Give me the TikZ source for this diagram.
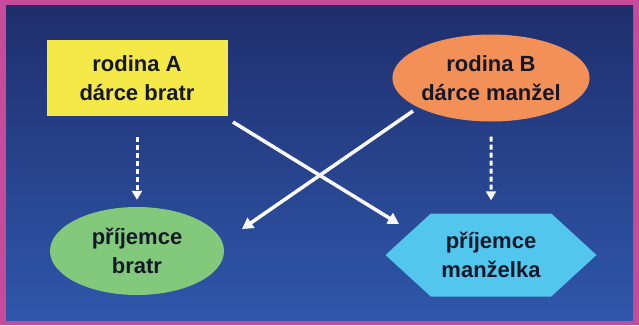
\documentclass[tikz,border=0pt]{standalone}
\usepackage{fontspec}
\setmainfont{Liberation Sans}
\usetikzlibrary{shapes.geometric, shapes.symbols, positioning, arrows.meta}

\definecolor{framecol}{HTML}{C64B9B}
\definecolor{bgtop}{HTML}{1F2E6C}
\definecolor{bgbottom}{HTML}{2F57AB}
\definecolor{yellowfill}{HTML}{F5E94A}
\definecolor{orangefill}{HTML}{F39058}
\definecolor{greenfill}{HTML}{82C97C}
\definecolor{cyanfill}{HTML}{52C6EC}
\definecolor{textdark}{HTML}{15182A}

\begin{document}
\begin{tikzpicture} [x=1pt, y=-1pt, node distance = 355pt, on grid,
  font=\bfseries\fontsize{22}{29}\selectfont,
  familybox/.style={align=center, inner sep=0pt, text=textdark},
  cross/.style={white, line width=3.5pt, -{Triangle[length=11pt, width=12pt]}},
  dots/.style={white, line width=3pt, dash pattern=on 5pt off 3pt, -{Triangle[length=9pt, width=10pt]}}]

% background and frame
\fill[framecol] (0,0) rectangle (639,325);
\shade[top color=bgtop, bottom color=bgbottom] (6,5) rectangle (633,320);

\node[familybox, rectangle, fill=yellowfill, minimum width=181pt, minimum height=76pt] (rodA) at (137,78) {rodina A\\dárce bratr};
\node[familybox, ellipse, fill=orangefill, minimum width=177pt, minimum height=87pt] (rodB) [right = 354pt of rodA] {rodina B\\dárce manžel};
\node[familybox, ellipse, fill=greenfill, minimum width=174pt, minimum height=88pt] (prijA) [below = 173pt of rodA] {příjemce\\bratr};
\node[familybox, signal, signal to=west and east, signal pointer angle=85, fill=cyanfill, minimum width=211pt, minimum height=83pt] (prijB) [below = 177pt of rodB] {příjemce\\manželka};

\coordinate [below right = 44pt and 96pt of rodA] (fromA);
\coordinate [above left = 31pt and 92pt of prijB] (toB);
\coordinate [below left = 33pt and 78pt of rodB] (fromB);
\coordinate [above right = 22pt and 105pt of prijA] (toA);

\draw[cross] (fromA) -- (toB);
\draw[cross] (fromB) -- (toA);
\draw[dots, shorten <=21pt, shorten >=7pt] (rodA) -- (prijA);
\draw[dots, shorten <=15pt, shorten >=13pt] (rodB) -- (prijB);

\end{tikzpicture}
\end{document}
